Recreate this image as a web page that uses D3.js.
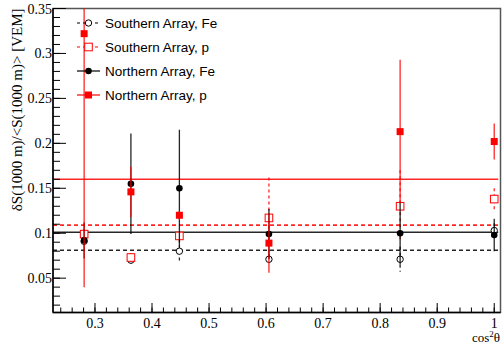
<!DOCTYPE html>
<html>
<head>
<meta charset="utf-8">
<script src="https://cdn.jsdelivr.net/npm/d3@7"></script>
<style>
  html, body { margin: 0; padding: 0; background: #fff; }
  svg { display: block; }
</style>
</head>
<body>
<script>
// Relative fluctuation of S(1000 m) versus cos^2(theta), for both arrays and primaries
const cos2 = [0.281, 0.363, 0.448, 0.605, 0.835, 1.0];

const southFe    = [0.091, 0.070, 0.080, 0.071, 0.071, 0.103];
const southFeErr = [0.004, 0.006, 0.013, 0.006, 0.014, 0.008];
const southP     = [0.099, 0.073, 0.097, 0.117, 0.130, 0.138];
const southPErr  = [0.005, 0.005, 0.004, 0.045, 0.040, 0.012];
const northFe    = [0.092, 0.155, 0.150, 0.099, 0.100, 0.098];
const northFeErr = [0.020, 0.056, 0.065, 0.028, 0.035, 0.018];
const northP     = [0.322, 0.146, 0.120, 0.089, 0.213, 0.202];
const northPErr  = [0.282, 0.028, 0.005, 0.033, 0.080, 0.020];

// Average levels (horizontal reference lines)
const meanLevels = [0.081, 0.109, 0.101, 0.160];

const xTicks = [0.3, 0.4, 0.5, 0.6, 0.7, 0.8, 0.9, 1.0];
const yTicks = [0.05, 0.1, 0.15, 0.2, 0.25, 0.3, 0.35];
const legendLabels = ["Southern Array, Fe", "Southern Array, p", "Northern Array, Fe", "Northern Array, p"];

const W = 502, H = 346;
const L = 53, R = 500.5, T = 8.5, B = 312.5;

const x = d3.scaleLinear().domain([0.2264, 1.011]).range([L, R]);
const y = d3.scaleLinear().domain([0.0118, 0.35]).range([B, T]);

const svg = d3.select("body").append("svg").attr("width", W).attr("height", H);

svg.append("defs").append("clipPath").attr("id", "plotclip")
  .append("rect").attr("x", L).attr("y", T).attr("width", R - L).attr("height", B - T);

// Frame
svg.append("rect").attr("x", L).attr("y", T).attr("width", R - L).attr("height", B - T)
  .attr("fill", "#fff").attr("stroke", "#555").attr("stroke-width", 1.5);

const plot = svg.append("g").attr("clip-path", "url(#plotclip)");

const series = [
  { v: southFe, e: southFeErr, color: "#000", dash: "4,3", marker: "openCircle", mean: meanLevels[0] },
  { v: southP,  e: southPErr,  color: "#ff0000", dash: "4,3", marker: "openSquare", mean: meanLevels[1] },
  { v: northFe, e: northFeErr, color: "#000", dash: null, marker: "circle", mean: meanLevels[2] },
  { v: northP,  e: northPErr,  color: "#ff0000", dash: null, marker: "square", mean: meanLevels[3] }
];

// Mean lines
series.forEach(s => {
  plot.append("line")
    .attr("x1", L).attr("x2", x(1.007))
    .attr("y1", y(s.mean)).attr("y2", y(s.mean))
    .attr("stroke", s.color).attr("stroke-width", 1.6)
    .attr("stroke-opacity", 0.85)
    .attr("stroke-dasharray", s.dash);
});

function drawMarker(g, type, cx, cy, color) {
  if (type === "circle") {
    g.append("circle").attr("cx", cx).attr("cy", cy).attr("r", 3.3).attr("fill", color);
  } else if (type === "openCircle") {
    g.append("circle").attr("cx", cx).attr("cy", cy).attr("r", 3.2)
      .attr("fill", "#fff").attr("stroke", color).attr("stroke-width", 1);
  } else if (type === "square") {
    g.append("rect").attr("x", cx - 3.5).attr("y", cy - 3.5).attr("width", 7).attr("height", 7).attr("fill", color);
  } else if (type === "openSquare") {
    g.append("rect").attr("x", cx - 3.8).attr("y", cy - 3.8).attr("width", 7.6).attr("height", 7.6)
      .attr("fill", "#fff").attr("stroke", color).attr("stroke-width", 1);
  }
}

// Error bars and markers
series.forEach(s => {
  const g = plot.append("g");
  cos2.forEach((c, i) => {
    g.append("line")
      .attr("x1", x(c)).attr("x2", x(c))
      .attr("y1", y(s.v[i] + s.e[i])).attr("y2", y(s.v[i] - s.e[i]))
      .attr("stroke", s.color).attr("stroke-width", 1.3)
      .attr("stroke-opacity", 0.85)
      .attr("stroke-dasharray", s.dash ? "3,3" : null);
  });
  cos2.forEach((c, i) => drawMarker(g, s.marker, x(c), y(s.v[i]), s.color));
});

// Axes (ticks drawn inside the frame)
const xAxis = svg.append("g");
xAxis.append("line").attr("x1", L).attr("x2", R).attr("y1", B).attr("y2", B).attr("stroke", "#000").attr("stroke-width", 1.5);
const xMinor = d3.range(0.24, 1.011, 0.02);
xMinor.forEach(v => {
  xAxis.append("line").attr("x1", x(v)).attr("x2", x(v)).attr("y1", B).attr("y2", B - 5)
    .attr("stroke", "#000").attr("stroke-width", 1);
});
xTicks.forEach(v => {
  xAxis.append("line").attr("x1", x(v)).attr("x2", x(v)).attr("y1", B).attr("y2", B - 9.5)
    .attr("stroke", "#000").attr("stroke-width", 1);
  xAxis.append("text").attr("x", x(v)).attr("y", 327.5)
    .attr("text-anchor", "middle")
    .attr("font-family", "Liberation Serif, Times New Roman, serif").attr("font-size", 14)
    .text(d3.format("~g")(v));
});

const yAxis = svg.append("g");
yAxis.append("line").attr("x1", L).attr("x2", L).attr("y1", T).attr("y2", B).attr("stroke", "#000").attr("stroke-width", 1.5);
const yMinor = d3.range(0.02, 0.351, 0.01);
yMinor.forEach(v => {
  yAxis.append("line").attr("x1", L).attr("x2", L + 7).attr("y1", y(v)).attr("y2", y(v))
    .attr("stroke", "#000").attr("stroke-width", 1);
});
yTicks.forEach(v => {
  yAxis.append("line").attr("x1", L).attr("x2", L + 13).attr("y1", y(v)).attr("y2", y(v))
    .attr("stroke", "#000").attr("stroke-width", 1);
  yAxis.append("text").attr("x", L - 1).attr("y", y(v) + 5)
    .attr("text-anchor", "end")
    .attr("font-family", "Liberation Serif, Times New Roman, serif").attr("font-size", 14)
    .text(d3.format("~g")(v));
});

// Axis titles
svg.append("text")
  .attr("transform", `translate(17, ${T}) rotate(-90)`)
  .attr("text-anchor", "end")
  .attr("dy", "0.35em")
  .attr("font-family", "Liberation Serif, Times New Roman, serif").attr("font-size", 15)
  .text("δS(1000 m)/<S(1000 m)> [VEM]");

svg.append("text")
  .attr("x", 500).attr("y", 342)
  .attr("text-anchor", "end")
  .attr("font-family", "Liberation Serif, Times New Roman, serif").attr("font-size", 13)
  .html("cos<tspan dy='-5' font-size='9'>2</tspan><tspan dy='5'>θ</tspan>");

// Legend
const legendY = [23, 47, 71, 95];
const leg = svg.append("g");
series.forEach((s, i) => {
  const ly = legendY[i];
  leg.append("line").attr("x1", 77).attr("x2", 100).attr("y1", ly).attr("y2", ly)
    .attr("stroke", s.color).attr("stroke-width", 1.2)
    .attr("stroke-dasharray", s.dash ? "3,3" : null);
  drawMarker(leg, s.marker, 88.5, ly, s.color);
  leg.append("text").attr("x", 105).attr("y", ly + 4.5)
    .attr("font-family", "Liberation Sans, Arial, Helvetica, sans-serif").attr("font-size", 13.5)
    .text(legendLabels[i]);
});
</script>
</body>
</html>
